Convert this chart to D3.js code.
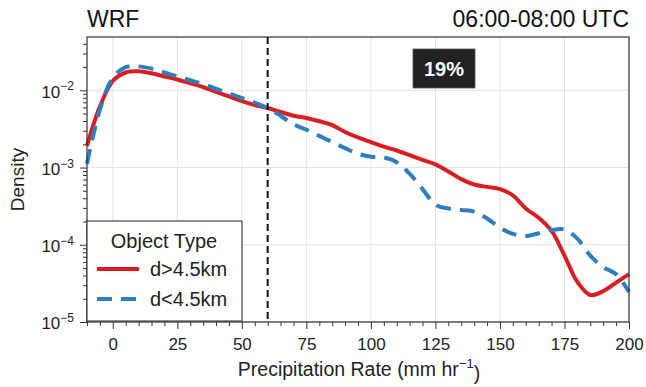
<!DOCTYPE html>
<html>
<head>
<meta charset="utf-8">
<script src="https://cdn.jsdelivr.net/npm/d3@7"></script>
<style>
  body { margin: 0; background: #fff; }
  svg { font-family: "Liberation Sans", Arial, sans-serif; }
</style>
</head>
<body>
<div id="chart"></div>
<script>
// precipitation rate grid (mm hr-1)
const rates = [-10, -5, 0, 5, 10, 15, 20, 25, 30, 35, 40, 45, 50, 55, 60, 65, 70, 75, 80, 85,
  90, 95, 100, 105, 110, 115, 120, 125, 130, 135, 140, 145, 150, 155, 160, 165, 170, 175, 180,
  185, 190, 195, 200];

// density, d>4.5km
const densLarge = [0.00191, 0.00617, 0.0132, 0.0170, 0.0176, 0.0166, 0.0151, 0.0138, 0.0123,
  0.0110, 0.00955, 0.00832, 0.00724, 0.00646, 0.00589, 0.00525, 0.00468, 0.00437, 0.00398,
  0.00355, 0.00288, 0.00245, 0.00214, 0.00186, 0.00166, 0.00145, 0.00126, 0.00110, 0.000891,
  0.000708, 0.000603, 0.000562, 0.000525, 0.000437, 0.000295, 0.000224, 0.000151, 0.0000724,
  0.0000330, 0.0000224, 0.0000251, 0.0000324, 0.0000417];

// density, d<4.5km
const densSmall = [0.00112, 0.00562, 0.0145, 0.0200, 0.0204, 0.0191, 0.0170, 0.0151, 0.0135,
  0.0120, 0.0105, 0.00912, 0.00794, 0.00692, 0.00589, 0.00468, 0.00363, 0.00309, 0.00257,
  0.00214, 0.00178, 0.00151, 0.00138, 0.00135, 0.00117, 0.000832, 0.000525, 0.000331, 0.000295,
  0.000282, 0.000269, 0.000219, 0.000166, 0.000138, 0.000130, 0.000141, 0.000155, 0.000158,
  0.000120, 0.0000724, 0.0000513, 0.0000417, 0.0000245];

const xTicks = [0, 25, 50, 75, 100, 125, 150, 175, 200];
const yDecades = [-5, -4, -3, -2];
const threshold = 60;
const share = '19%';

const W = 646, H = 387;
const margin = { left: 87, right: 17, top: 37, bottom: 65 };
const iw = W - margin.left - margin.right;
const ih = H - margin.top - margin.bottom;

const svg = d3.select('#chart').append('svg').attr('width', W).attr('height', H);

const x = d3.scaleLinear().domain([-10, 200]).range([margin.left, margin.left + iw]);
const y = d3.scaleLog().domain([1e-5, Math.pow(10, -1.31)]).range([margin.top + ih, margin.top]);

// gridlines
const grid = svg.append('g').attr('stroke', '#e3e3e3').attr('stroke-width', 1);
grid.selectAll('line.gx').data(xTicks).enter().append('line')
  .attr('x1', d => x(d)).attr('x2', d => x(d))
  .attr('y1', margin.top).attr('y2', margin.top + ih);
grid.selectAll('line.gy').data(yDecades).enter().append('line')
  .attr('y1', d => y(Math.pow(10, d))).attr('y2', d => y(Math.pow(10, d)))
  .attr('x1', margin.left).attr('x2', margin.left + iw);

// x axis
const xMinor = d3.range(-10, 201, 5).filter(v => !xTicks.includes(v));
const xAxis = svg.append('g').attr('transform', `translate(0,${margin.top + ih})`);
xAxis.call(d3.axisBottom(x).tickValues(xMinor).tickSize(4).tickFormat(''));
xAxis.append('g').call(d3.axisBottom(x).tickValues(xTicks).tickSize(7).tickPadding(9))
  .selectAll('text').attr('font-size', 17).attr('fill', '#222');
xAxis.selectAll('.domain').remove();
xAxis.selectAll('line').attr('stroke', '#333');

// y axis
const yMinor = [];
[-5, -4, -3, -2].forEach(e => d3.range(2, 10).forEach(m => {
  const v = m * Math.pow(10, e);
  if (v <= y.domain()[1]) yMinor.push(v);
}));
const yAxis = svg.append('g').attr('transform', `translate(${margin.left},0)`);
yAxis.call(d3.axisLeft(y).tickValues(yMinor).tickSize(4).tickFormat(''));
const yMajor = yAxis.append('g')
  .call(d3.axisLeft(y).tickValues(yDecades.map(e => Math.pow(10, e))).tickSize(7).tickFormat(''));
yAxis.selectAll('.domain').remove();
yAxis.selectAll('line').attr('stroke', '#333');
yMajor.selectAll('.tick').append('text')
  .attr('x', -13).attr('dy', '0.4em').attr('text-anchor', 'end')
  .attr('fill', '#222').attr('font-size', 17)
  .each(function (d) {
    const t = d3.select(this);
    t.append('tspan').text('10');
    t.append('tspan').attr('font-size', 12).attr('dy', '-0.6em').text('\u2212' + (-Math.round(Math.log10(d))));
  });

// curves
const line = d3.line().x(d => x(d[0])).y(d => y(d[1])).curve(d3.curveCatmullRom.alpha(0.5));
const plot = svg.append('g');
plot.append('path').datum(rates.map((r, i) => [r, densLarge[i]]))
  .attr('d', line).attr('fill', 'none').attr('stroke', '#d91e23').attr('stroke-width', 4);
plot.append('path').datum(rates.map((r, i) => [r, densSmall[i]]))
  .attr('d', line).attr('fill', 'none').attr('stroke', '#2f7fbf').attr('stroke-width', 4)
  .attr('stroke-dasharray', '15,9');

// threshold line
svg.append('line')
  .attr('x1', x(threshold)).attr('x2', x(threshold))
  .attr('y1', margin.top).attr('y2', margin.top + ih)
  .attr('stroke', '#111').attr('stroke-width', 2).attr('stroke-dasharray', '7,4');

// frame
svg.append('rect')
  .attr('x', margin.left).attr('y', margin.top).attr('width', iw).attr('height', ih)
  .attr('fill', 'none').attr('stroke', '#333').attr('stroke-width', 1.2);

// percentage badge
svg.append('rect').attr('x', 413).attr('y', 49).attr('width', 62).attr('height', 39)
  .attr('fill', '#222').attr('stroke', '#555').attr('stroke-width', 0.8);
svg.append('text').attr('x', 444).attr('y', 76).attr('text-anchor', 'middle')
  .attr('fill', '#fff').attr('font-size', 20).attr('font-weight', 'bold').text(share);

// legend
const lg = svg.append('g').attr('transform', `translate(${margin.left},221)`);
lg.append('rect').attr('width', 155).attr('height', 100)
  .attr('fill', '#fff').attr('stroke', '#222').attr('stroke-width', 1);
lg.append('text').attr('x', 77).attr('y', 27).attr('text-anchor', 'middle')
  .attr('font-size', 20).attr('fill', '#222').text('Object Type');
const items = [
  { label: 'd>4.5km', color: '#d91e23', dash: null },
  { label: 'd<4.5km', color: '#2f7fbf', dash: '15,9' },
];
items.forEach((it, i) => {
  const yy = 48 + i * 30;
  lg.append('line').attr('x1', 10).attr('x2', 52).attr('y1', yy).attr('y2', yy)
    .attr('stroke', it.color).attr('stroke-width', 4).attr('stroke-dasharray', it.dash);
  lg.append('text').attr('x', 63).attr('y', yy + 7).attr('font-size', 20)
    .attr('fill', '#222').text(it.label);
});

// titles
svg.append('text').attr('x', 87).attr('y', 27).attr('font-size', 23).attr('fill', '#111').text('WRF');
svg.append('text').attr('x', 629).attr('y', 27).attr('text-anchor', 'end')
  .attr('font-size', 23).attr('fill', '#111').text('06:00-08:00 UTC');

// axis labels
svg.append('text').attr('transform', `translate(24,${margin.top + ih / 2}) rotate(-90)`)
  .attr('text-anchor', 'middle').attr('font-size', 19).attr('fill', '#222').text('Density');
const xl = svg.append('text').attr('x', 359).attr('y', 376).attr('text-anchor', 'middle')
  .attr('font-size', 19.5).attr('fill', '#222');
xl.append('tspan').text('Precipitation Rate (mm hr');
xl.append('tspan').attr('font-size', 13).attr('dy', '-0.6em').text('\u22121');
xl.append('tspan').attr('dy', '0.6em').text(')');
</script>
</body>
</html>
